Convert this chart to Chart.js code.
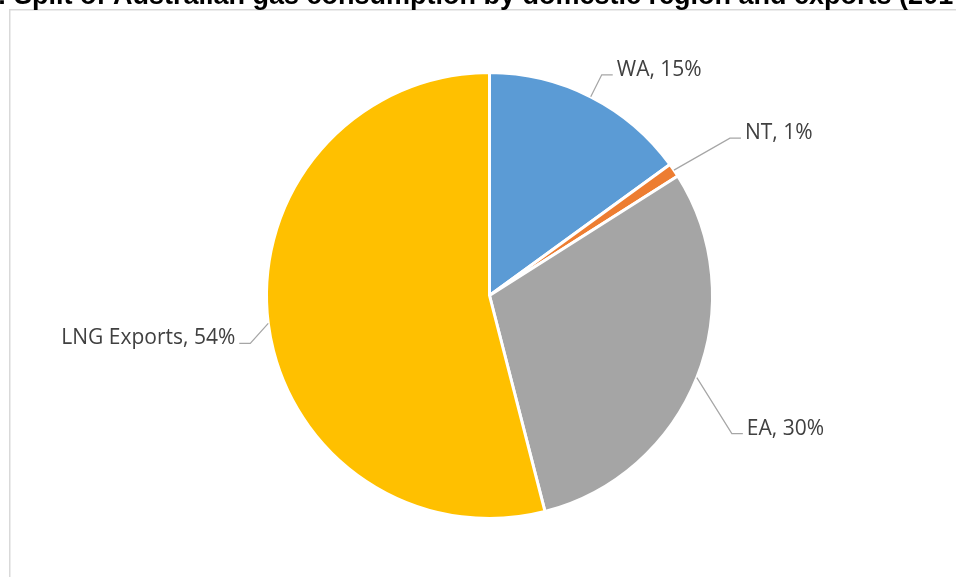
<!DOCTYPE html>
<html>
<head>
<meta charset="utf-8">
<script src="https://cdn.jsdelivr.net/npm/chart.js@4.4.1/dist/chart.umd.min.js"></script>
<style>
  html, body { margin: 0; padding: 0; background: #fff; overflow: hidden; }
  #wrap { width: 956px; height: 577px; position: relative; }
</style>
</head>
<body>
<div id="wrap"><canvas id="gasChart" width="956" height="577"></canvas></div>
<script>
// Gas consumption split, percent of total
const regions = ['WA', 'NT', 'EA', 'LNG Exports'];
const shares = [15, 1, 30, 54];
const sliceColors = ['#5B9BD5', '#ED7D31', '#A5A5A5', '#FFC000'];

const titleLead = 'Figure 2: ';
const titleText = 'Split of Australian gas consumption by domestic region and exports (2014-15)';

// Outer frame and the title line running across the top
const framePlugin = {
  id: 'frame',
  beforeDraw(chart) {
    const ctx = chart.ctx;
    ctx.save();
    ctx.strokeStyle = '#D9D9D9';
    ctx.lineWidth = 1.5;
    ctx.strokeRect(9.75, 9.75, 1200, 1200);
    ctx.font = 'bold 27px "Liberation Sans", Arial, sans-serif';
    ctx.fillStyle = '#000';
    ctx.textBaseline = 'alphabetic';
    const lead = ctx.measureText(titleLead).width;
    ctx.fillText(titleLead + titleText, 14 - lead, 4);
    ctx.restore();
  }
};

// Excel-style data labels with bent leader lines
const leaderLabels = {
  id: 'leaderLabels',
  afterDatasetsDraw(chart, args, opts) {
    const { ctx } = chart;
    const meta = chart.getDatasetMeta(0);
    const values = chart.data.datasets[0].data;
    const total = values.reduce((a, b) => a + b, 0);
    ctx.save();
    ctx.font = opts.font;
    ctx.lineWidth = 1.25;
    ctx.strokeStyle = '#A6A6A6';
    ctx.fillStyle = '#404040';
    meta.data.forEach((arc, i) => {
      const { x, y, startAngle, endAngle, outerRadius } =
        arc.getProps(['x', 'y', 'startAngle', 'endAngle', 'outerRadius'], true);
      const mid = (startAngle + endAngle) / 2;
      const sx = x + Math.cos(mid) * outerRadius;
      const sy = y + Math.sin(mid) * outerRadius;
      const [dx, dy] = opts.elbows[i];
      const ex = sx + dx, ey = sy + dy;
      const dir = dx < 0 ? -1 : 1;
      const tx = ex + dir * opts.tail;
      ctx.beginPath();
      ctx.moveTo(sx, sy);
      ctx.lineTo(ex, ey);
      ctx.lineTo(tx, ey);
      ctx.stroke();
      ctx.textAlign = dir < 0 ? 'right' : 'left';
      ctx.textBaseline = 'alphabetic';
      const pct = Math.round(values[i] / total * 100);
      ctx.fillText(`${chart.data.labels[i]}, ${pct}%`, tx + dir * opts.gap, ey + 1);
    });
    ctx.restore();
  }
};

new Chart(document.getElementById('gasChart'), {
  type: 'pie',
  data: {
    labels: regions,
    datasets: [{
      data: shares,
      backgroundColor: sliceColors,
      borderColor: '#fff',
      borderWidth: 3,
      radius: 223
    }]
  },
  options: {
    responsive: false,
    animation: false,
    layout: { padding: { left: 23, right: 0, top: 14, bottom: 0 } },
    plugins: {
      legend: { display: false },
      tooltip: { enabled: false },
      leaderLabels: {
        font: '21px "Open Sans", "Noto Sans", sans-serif',
        elbows: [[11, -22], [56, -32], [35, 56], [-18, 20]],
        tail: 11,
        gap: 4
      }
    }
  },
  plugins: [framePlugin, leaderLabels]
});
</script>
</body>
</html>
